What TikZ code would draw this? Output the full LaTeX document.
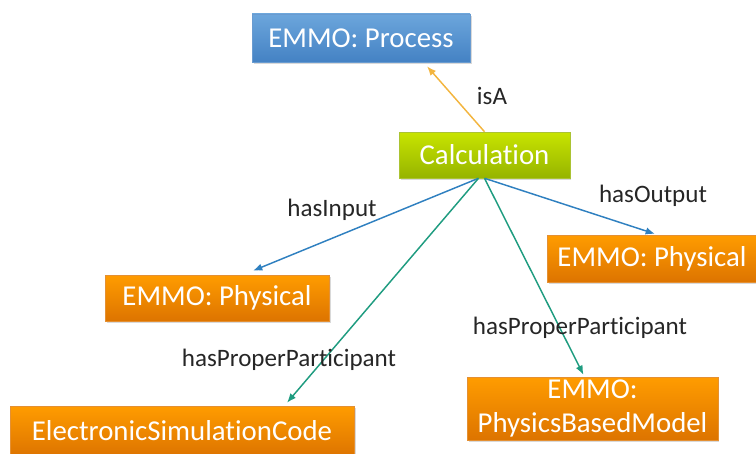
\documentclass[tikz,border=0pt]{standalone}
\usepackage{fontspec}
\setmainfont{Carlito}[Ligatures=NoCommon]
\usetikzlibrary{arrows.meta, calc, shadows}
\definecolor{proctop}{HTML}{6CA6DC}
\definecolor{procbot}{HTML}{4482C4}
\definecolor{calctop}{HTML}{C8E400}
\definecolor{calcbot}{HTML}{96B400}
\definecolor{orangetop}{HTML}{FF9C00}
\definecolor{orangebot}{HTML}{DD7400}
\definecolor{isacolor}{HTML}{F3B53F}
\definecolor{iocolor}{HTML}{2F80C0}
\definecolor{partcolor}{HTML}{1F9C80}

\begin{document}
\begin{tikzpicture}[
    x=0.75pt, y=-0.75pt,
    box/.style={rectangle, inner sep=0pt, align=center, text=white, font=\fontsize{21.6}{25}\selectfont,
        drop shadow={shadow xshift=1.2pt, shadow yshift=-1.5pt, opacity=.3}},
    procbox/.style={box, draw=procbot!80!white, top color=proctop, bottom color=procbot},
    calcbox/.style={box, draw=calcbot!80!white, top color=calctop, bottom color=calcbot},
    thingbox/.style={box, draw=orangebot!80!white, top color=orangetop, bottom color=orangebot},
    relation/.style={font=\fontsize{18.8}{22}\selectfont, text=black!85},
    arrow/.style={-{Latex[length=7pt, width=5.5pt]}, line width=1.1pt}
]
\useasboundingbox (0,0) rectangle (756,453);

\node[procbox, minimum width=163.5pt, minimum height=36pt] (process) at (361,38) {EMMO: Process};
\node[calcbox, minimum width=128pt, minimum height=34.5pt] (calc) at (484.5,155) {Calculation};
\node[thingbox, minimum width=168pt, minimum height=34.5pt] (input) at (217,298) {EMMO: Physical};
\node[thingbox, minimum width=157.5pt, minimum height=35pt] (output) at (652,258.5) {EMMO: Physical};
\node[thingbox, minimum width=258pt, minimum height=37.5pt] (code) at (182,431) {ElectronicSimulationCode};
\node[thingbox, minimum width=188pt, minimum height=47pt] (model) at (592.5,408.5) {EMMO:\\PhysicsBasedModel};

% relations
\draw[arrow, isacolor] (calc.north) -- ($(process.south)+(66,4)$);
\draw[arrow, iocolor] ($(calc.south)+(-6,0)$) -- ($(input.north)+(36,-4)$);
\draw[arrow, iocolor] (calc.south) -- ($(output.north)+(3,-1)$);
\draw[arrow, partcolor] ($(calc.south)+(-6,0)$) -- ($(code.north)+(105,-3)$);
\draw[arrow, partcolor] (calc.south) -- ($(model.north)+(-9,-2)$);

\node[relation] (isa) at (492,96) {isA};
\node[relation] (hasinput) at (332,210) {hasInput};
\node[relation] (hasoutput) at (653,196) {hasOutput};
\node[relation] (partleft) at (289,360) {hasProperParticipant};
\node[relation] (partright) at (580,328) {hasProperParticipant};
\end{tikzpicture}
\end{document}
